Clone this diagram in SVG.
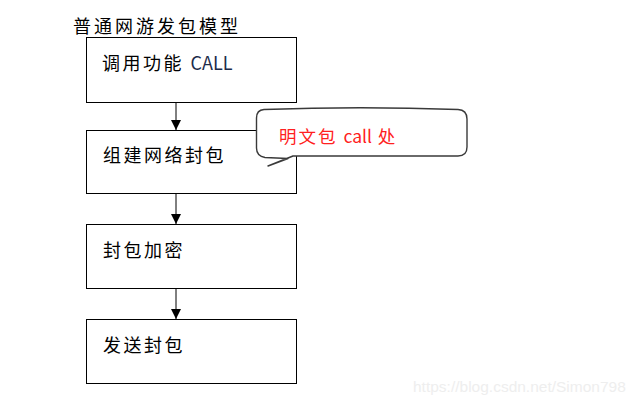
<svg xmlns="http://www.w3.org/2000/svg" width="640" height="404" viewBox="0 0 640 404">
<defs>
<style>
.box{fill:#fff;stroke:#000;stroke-width:1}
.t{font-family:"Noto Sans CJK SC","Liberation Sans",sans-serif;font-size:18px;fill:#000;letter-spacing:2.5px}
.conn{stroke:#000;stroke-width:1;fill:none}
</style>
<marker id="ah" viewBox="0 0 10 10" refX="10" refY="5" markerWidth="10" markerHeight="10" markerUnits="userSpaceOnUse" orient="auto">
<path d="M0,0 L10,5 L0,10 Z" fill="#000"/>
</marker>
</defs>
<rect width="640" height="404" fill="#fff"/>
<text x="73" y="33" class="t" style="letter-spacing:3px">普通网游发包模型</text>
<g id="connectors">
<line class="conn" x1="176" y1="102" x2="176" y2="130" marker-end="url(#ah)"/>
<line class="conn" x1="176" y1="193" x2="176" y2="224" marker-end="url(#ah)"/>
<line class="conn" x1="176" y1="288" x2="176" y2="319" marker-end="url(#ah)"/>
</g>
<g id="n1">
<rect class="box" x="86.5" y="37.5" width="210" height="65"/>
<text x="102" y="70" class="t">调用功能 <tspan fill="#1c2b4a" letter-spacing="0">CALL</tspan></text>
</g>
<g id="n2">
<rect class="box" x="86.5" y="130.5" width="210" height="63"/>
<text x="103" y="162" class="t">组建网络封包</text>
</g>
<g id="n3">
<rect class="box" x="86.5" y="224.5" width="210" height="64"/>
<text x="103" y="257" class="t">封包加密</text>
</g>
<g id="n4">
<rect class="box" x="86.5" y="319.5" width="210" height="64"/>
<text x="103" y="352" class="t">发送封包</text>
</g>
<g id="callout">
<path d="M264,109.5 Q360,106 458,109.5 Q467,110 467,119 L467,147 Q467,156 458,156 L293,156 L268,166 L288,158.5 L265,157.5 Q256.5,156 256.5,148 L256.5,118 Q256.5,110 264,109.5 Z" fill="#fff" stroke="#3a3a3a" stroke-width="1.4" stroke-linejoin="round"/>
<text x="279" y="143" style="font-family:'Noto Sans CJK SC','Liberation Sans',sans-serif;font-size:17.5px;fill:#ff2020;letter-spacing:2px">明文包 <tspan letter-spacing="0">call</tspan> 处</text>
</g>
<text x="413" y="392" style="font-family:'Liberation Sans',Arial,sans-serif;font-size:15.5px;fill:#eeeeee">https://blog.csdn.net/Simon798</text>
</svg>
